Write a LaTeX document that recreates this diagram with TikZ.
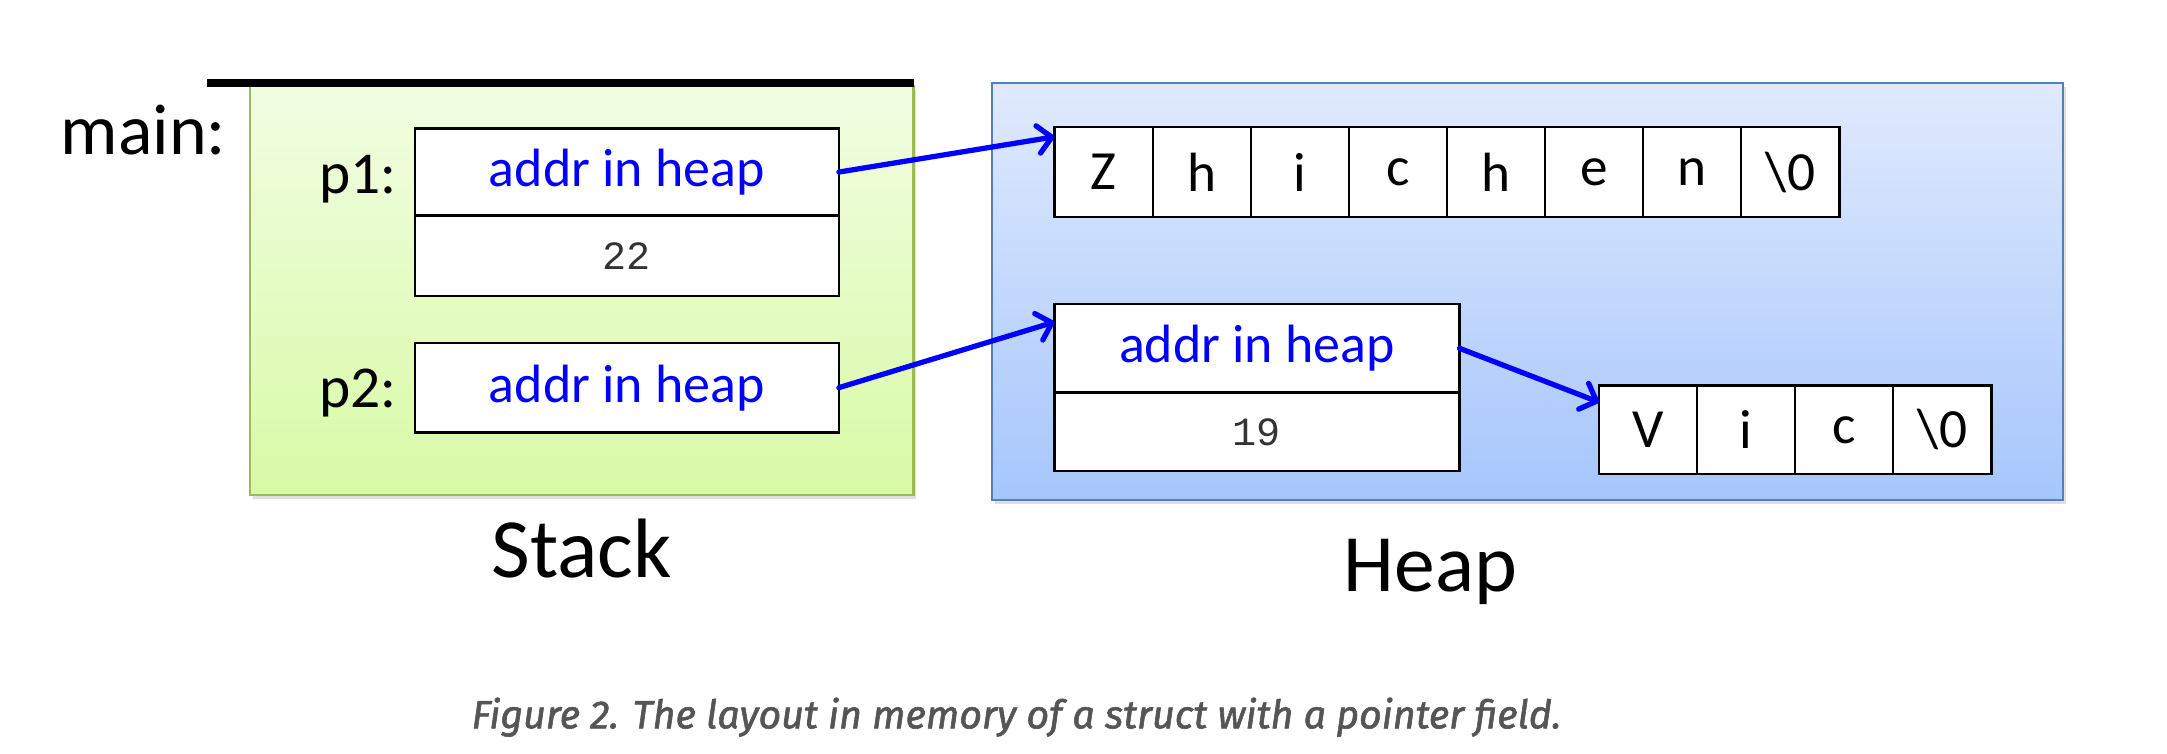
\documentclass[tikz,border=0pt]{standalone}
\usepackage{fontspec}
\setmainfont{Carlito}
\newfontfamily\codefont{Liberation Mono}
\newfontfamily\capfont{Fira Sans}[ItalicFeatures={FakeBold=1.5}]
\usepackage{tikz}
\usetikzlibrary{arrows.meta,positioning,shadows}
\definecolor{stacktop}{HTML}{F2FDE3}
\definecolor{stackbot}{HTML}{D8FAA5}
\definecolor{stackline}{HTML}{9BBB59}
\definecolor{heaptop}{HTML}{E0EAFD}
\definecolor{heapbot}{HTML}{A6C6FC}
\definecolor{heapline}{HTML}{4F81BD}
\definecolor{ptrblue}{HTML}{0000FF}
\definecolor{capgray}{HTML}{555555}

\begin{document}
\begin{tikzpicture}[x=1pt,y=-1pt, every node/.style={inner sep=0pt,outer sep=0pt}]
\tikzset{region/.style={line width=1.5pt,drop shadow={opacity=0.25,shadow xshift=2pt,shadow yshift=-3pt}},
  field/.style={draw=black,line width=1.6pt,fill=white,minimum width=307pt,font=\fontsize{39}{44}\selectfont},
  cell/.style={draw=black,line width=1.6pt,fill=white,minimum width=71pt,minimum height=65pt,font=\fontsize{40}{44}\selectfont},
  label/.style={font=\fontsize{43}{48}\selectfont,anchor=base east},
  ptr/.style={draw=ptrblue,line width=3.8pt,line cap=round,-{Straight Barb[length=10pt,width=20pt,round]}}}
\useasboundingbox (0,0) rectangle (1568,545);
\node[region,draw=stackline,top color=stacktop,bottom color=stackbot,minimum width=480pt,minimum height=296pt] (stack) at (421,210) {};
\node[region,draw=heapline,top color=heaptop,bottom color=heapbot,minimum width=775pt,minimum height=302pt] (heap) at (1105.5,211) {};
\draw[line width=5.5pt] ([xshift=-31pt,yshift=2pt]stack.north west) -- ([yshift=2pt]stack.north east);
\node[font=\fontsize{52}{58}\selectfont,anchor=base west] (main) at (44,112) {main:};
\node[field,minimum height=63pt,text=ptrblue] (p1addr) at (453.5,124.5) {addr in heap};
\node[field,minimum height=58pt,below=0pt of p1addr,font=\codefont\fontsize{29}{32}\selectfont,text=black!80] (p1len) {22};
\node[field,minimum height=65pt,text=ptrblue] (p2addr) at (453.5,280.5) {addr in heap};
\node[label] (p1) at (287,140) {p1:};
\node[label] (p2) at (287,295) {p2:};
\foreach \ch [count=\i] in {Z,h,i,c,h,e,n,{\textbackslash0}}
  \node[cell] (z\i) at ({727.5+71*\i},124.5) {\ch};
\node[field,minimum width=293pt,minimum height=64pt,text=ptrblue] (h1addr) at (909.5,252) {addr in heap};
\node[field,minimum width=293pt,minimum height=57pt,below=0pt of h1addr,font=\codefont\fontsize{29}{32}\selectfont,text=black!80] (h1len) {19};
\foreach \ch [count=\i] in {V,i,c,{\textbackslash0}}
  \node[cell,minimum height=64pt] (v\i) at ({1121.5+71*\i},311) {\ch};
\draw[ptr] (p1addr.east) -- ([yshift=-7pt]z1.north west);
\draw[ptr] (p2addr.east) -- ([yshift=-13pt]h1addr.north west);
\draw[ptr] (h1addr.east) -- ([yshift=-12pt]v1.north west);
\node[font=\fontsize{61}{68}\selectfont,anchor=base] (stacklbl) at (421,418) {Stack};
\node[font=\fontsize{59}{66}\selectfont,anchor=base] (heaplbl) at (1035,428) {Heap};
\node[font=\capfont\itshape\fontsize{28.5}{32}\selectfont,text=capgray,anchor=base] (caption) at (735.5,527) {Figure 2. The layout in memory of a struct with a pointer field.};
\end{tikzpicture}
\end{document}
